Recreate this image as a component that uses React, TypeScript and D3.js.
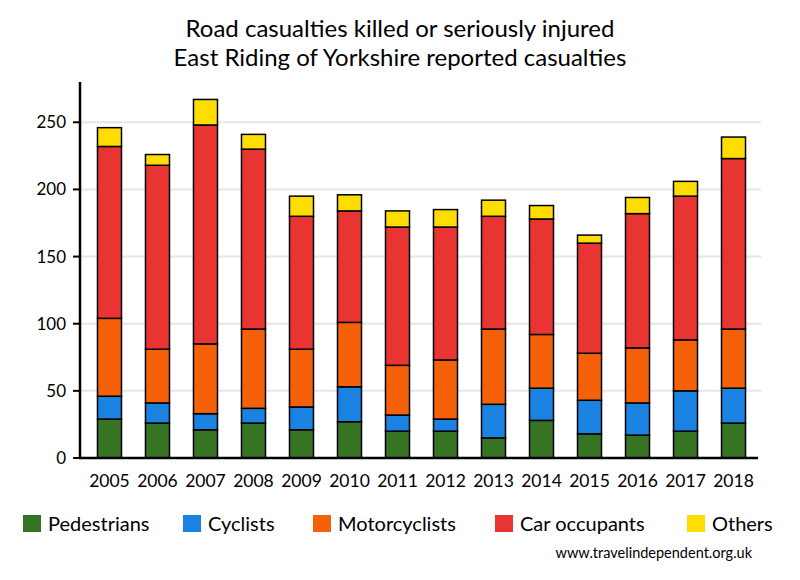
import React from "react";
import * as d3 from "d3";

const years = ["2005", "2006", "2007", "2008", "2009", "2010", "2011", "2012", "2013", "2014", "2015", "2016", "2017", "2018"];
const pedestrians = [29, 26, 21, 26, 21, 27, 20, 20, 15, 28, 18, 17, 20, 26];
const cyclists = [17, 15, 12, 11, 17, 26, 12, 9, 25, 24, 25, 24, 30, 26];
const motorcyclists = [58, 40, 52, 59, 43, 48, 37, 44, 56, 40, 35, 41, 38, 44];
const carOccupants = [128, 137, 163, 134, 99, 83, 103, 99, 84, 86, 82, 100, 107, 127];
const others = [14, 8, 19, 11, 15, 12, 12, 13, 12, 10, 6, 12, 11, 16];
const yTicks = [0, 50, 100, 150, 200, 250];

const seriesNames = ["Pedestrians", "Cyclists", "Motorcyclists", "Car occupants", "Others"];
const seriesColors = ["#367322", "#1a82e0", "#f5600b", "#e93434", "#ffdd00"];
const legendX = [23, 183, 313, 495, 687];

const FONT = "Lato, 'Open Sans', sans-serif";

const App: React.FC = () => {
  const width = 800;
  const height = 580;
  const plot = { left: 80, right: 761, top: 82, bottom: 458 };

  const rows = years.map((year, i) => ({
    year,
    Pedestrians: pedestrians[i],
    Cyclists: cyclists[i],
    Motorcyclists: motorcyclists[i],
    "Car occupants": carOccupants[i],
    Others: others[i],
  }));

  const stacked = d3.stack<any>().keys(seriesNames)(rows);

  const x = d3
    .scaleBand()
    .domain(years)
    .range([81.5, 761.5])
    .paddingInner(0.5)
    .paddingOuter(0.333);
  const y = d3.scaleLinear().domain([0, 280]).range([plot.bottom, plot.top]);

  return (
    <svg width={width} height={height} style={{ display: "block", position: "absolute", left: 0, top: 0 }}>
      <rect width={width} height={height} fill="#fff" />

      <text x={400} y={37} textAnchor="middle" fontFamily={FONT} fontSize={24} fill="#000">
        Road casualties killed or seriously injured
      </text>
      <text x={400} y={66} textAnchor="middle" fontFamily={FONT} fontSize={24} fill="#000">
        East Riding of Yorkshire reported casualties
      </text>

      {/* gridlines */}
      {yTicks.slice(1).map(t => (
        <line key={t} x1={plot.left} x2={plot.right} y1={y(t)} y2={y(t)} stroke="#e6e6e6" strokeWidth={2} />
      ))}

      {/* bars */}
      {stacked.map((s, si) => (
        <g key={s.key} fill={seriesColors[si]} stroke="#000" strokeWidth={1.5}>
          {s.map((d, i) => (
            <rect
              key={years[i]}
              x={x(years[i])!}
              y={y(d[1])}
              width={x.bandwidth()}
              height={y(d[0]) - y(d[1])}
            />
          ))}
        </g>
      ))}

      {/* y axis */}
      <line x1={plot.left} x2={plot.left} y1={plot.top} y2={plot.bottom + 1} stroke="#000" strokeWidth={2.5} />
      {yTicks.map(t => (
        <g key={t}>
          <line x1={plot.left - 7} x2={plot.left} y1={y(t)} y2={y(t)} stroke="#000" strokeWidth={2} />
          <text x={66} y={y(t)} dy="0.35em" textAnchor="end" fontFamily={FONT} fontSize={17} fill="#000">
            {t}
          </text>
        </g>
      ))}

      {/* x axis */}
      <line x1={plot.left - 1} x2={758} y1={plot.bottom} y2={plot.bottom} stroke="#000" strokeWidth={2.5} />
      {years.map(yr => (
        <text key={yr} x={x(yr)! + x.bandwidth() / 2} y={487} textAnchor="middle" fontFamily={FONT} fontSize={17.5} fill="#000">
          {yr}
        </text>
      ))}

      {/* legend */}
      {seriesNames.map((name, i) => (
        <g key={name}>
          <rect x={legendX[i]} y={515} width={18} height={17} fill={seriesColors[i]} />
          <text x={legendX[i] + 25} y={531} fontFamily={FONT} fontSize={20} fill="#000">
            {name}
          </text>
        </g>
      ))}

      <text x={752} y={558} textAnchor="end" fontFamily={FONT} fontSize={14.5} fill="#000">
        www.travelindependent.org.uk
      </text>
    </svg>
  );
};

export default App;
